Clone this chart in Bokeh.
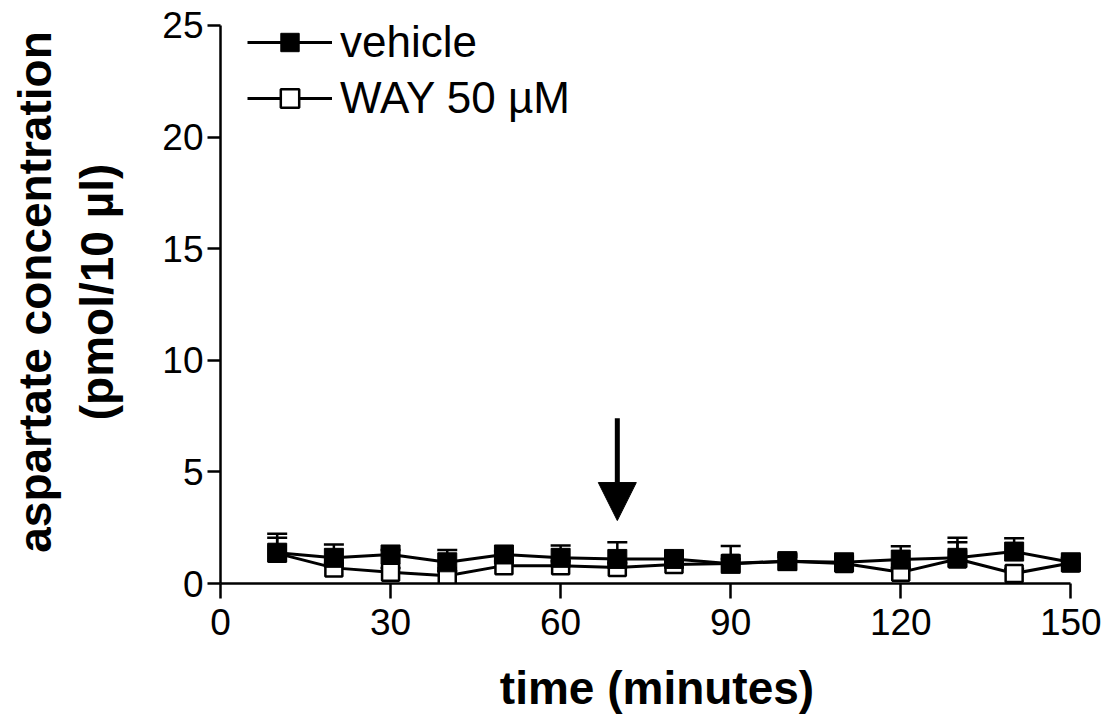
from bokeh.plotting import figure
from bokeh.models import (Range1d, FixedTicker, ColumnDataSource, Whisker, TeeHead,
                          Arrow, NormalHead, Legend, LegendItem)
from bokeh.embed import file_html
from bokeh.resources import INLINE

# ---- data ----
time = [10, 20, 30, 40, 50, 60, 70, 80, 90, 100, 110, 120, 130, 140, 150]
vehicle = [1.38, 1.15, 1.3, 0.95, 1.3, 1.15, 1.1, 1.1, 0.88, 1.0, 0.95, 1.07, 1.15, 1.43, 0.95]
vehicle_err = [0.85, 0.6, 0.2, 0.55, 0.15, 0.55, 0.75, 0.25, 0.8, 0.3, 0.25, 0.6, 0.9, 0.6, 0.2]
way = [1.35, 0.7, 0.5, 0.35, 0.8, 0.8, 0.72, 0.85, 0.9, 1.0, 0.9, 0.5, 1.1, 0.45, 0.92]
way_err = [0.7, 0.2, 0.2, 0.2, 0.2, 0.2, 0.2, 0.2, 0.2, 0.2, 0.2, 0.2, 0.75, 0.2, 0.2]
x_ticks = [0, 30, 60, 90, 120, 150]
y_ticks = [0, 5, 10, 15, 20, 25]
arrow_x = 70
arrow_y = [7.4, 2.82]

FONT = "Liberation Sans"

p = figure(width=1109, height=724,
           x_range=Range1d(0, 154), y_range=Range1d(0, 26.12),
           output_backend="svg", toolbar_location=None,
           min_border_left=220, min_border_right=16,
           min_border_top=0, min_border_bottom=141)
p.outline_line_color = None
p.grid.visible = False
p.background_fill_color = "white"
p.border_fill_color = "white"

for ax in (p.xaxis[0], p.yaxis[0]):
    ax.axis_line_width = 2.5
    ax.axis_line_color = "black"
    ax.major_tick_line_width = 2.5
    ax.major_tick_line_color = "black"
    ax.minor_tick_line_color = None
    ax.major_tick_in = 0
    ax.major_label_text_font = FONT
    ax.major_label_text_font_size = "37px"
    ax.major_label_text_color = "black"
    ax.axis_label_text_font = FONT
    ax.axis_label_text_font_style = "bold"
    ax.axis_label_text_font_size = "46px"
    ax.axis_label_text_color = "black"

p.xaxis.ticker = FixedTicker(ticks=x_ticks)
p.yaxis.ticker = FixedTicker(ticks=y_ticks)
p.xaxis.bounds = (0, 150)
p.yaxis.bounds = (0, 25)
p.xaxis.major_tick_out = 15
p.yaxis.major_tick_out = 13
p.xaxis.major_label_standoff = 10
p.yaxis.major_label_standoff = 4
p.xaxis.axis_label = "time (minutes)"
p.yaxis.axis_label = "aspartate concentration\n(pmol/10 µl)"
p.xaxis.axis_label_standoff = 24
p.yaxis.axis_label_standoff = 36

src_v = ColumnDataSource(dict(x=time, y=vehicle,
                              top=[a + b for a, b in zip(vehicle, vehicle_err)]))
src_w = ColumnDataSource(dict(x=time, y=way,
                              top=[a + b for a, b in zip(way, way_err)]))

for src in (src_w, src_v):
    w = Whisker(base="x", lower="y", upper="top", source=src, dimension="height",
                line_width=2.5, line_color="black",
                upper_head=TeeHead(size=20, line_width=2.5, line_color="black"),
                lower_head=None)
    p.add_layout(w)

lw = p.line("x", "y", source=src_w, line_width=3, line_color="black")
sw = p.scatter("x", "y", source=src_w, marker="square", size=17,
               fill_color="white", line_color="black", line_width=2.5)
lv = p.line("x", "y", source=src_v, line_width=3, line_color="black")
sv = p.scatter("x", "y", source=src_v, marker="square", size=19,
               fill_color="black", line_color="black", line_width=1)

p.add_layout(Arrow(x_start=arrow_x, y_start=arrow_y[0], x_end=arrow_x, y_end=arrow_y[1],
                   line_width=5, line_color="black",
                   end=NormalHead(size=38, fill_color="black", line_color="black", line_width=1)))

legend = Legend(items=[LegendItem(label="vehicle", renderers=[lv, sv]),
                       LegendItem(label="WAY 50 µM", renderers=[lw, sw])],
                location=(27, 460), padding=10, margin=0, spacing=6,
                glyph_width=85, glyph_height=46, label_standoff=8,
                label_text_font=FONT, label_text_font_size="44px",
                label_text_color="black",
                background_fill_alpha=0, border_line_color=None)
p.add_layout(legend)

open("out.html", "w").write(file_html(p, INLINE))
